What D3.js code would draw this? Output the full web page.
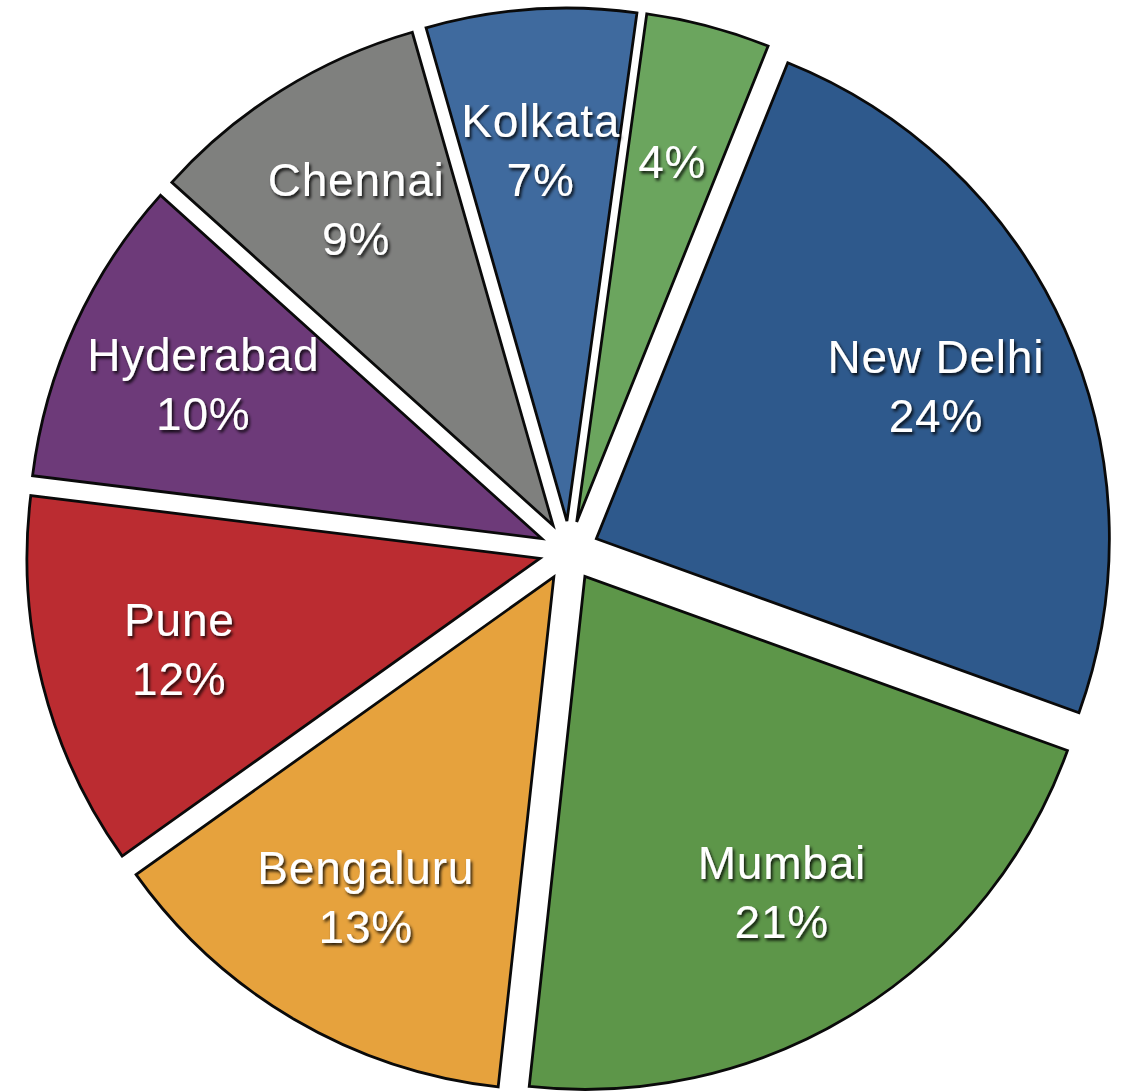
<!DOCTYPE html>
<html>
<head>
<meta charset="utf-8">
<script src="https://cdn.jsdelivr.net/npm/d3@7"></script>
<style>
  html, body { margin: 0; padding: 0; background: #ffffff; }
  svg { display: block; }
</style>
</head>
<body>
<svg id="chart" width="1127" height="1092"></svg>
<script>
// ---- data ----
const categories = ["Others", "New Delhi", "Mumbai", "Bengaluru", "Pune", "Hyderabad", "Chennai", "Kolkata"];
const values = [3.9, 24.4, 21.2, 13.4, 11.8, 9.7, 8.9, 6.6];
const colors = ["#6ba55e", "#2e598c", "#5d9649", "#e6a23d", "#bb2c31", "#6d3a79", "#7f807e", "#3f6a9e"];

// ---- layout ----
const cx = 569, cy = 551;
const radius = 513;
const explode = 30;
const labelR = 372;
const startDeg = 7.85;
const toRad = d => d * Math.PI / 180;

const svg = d3.select("#chart");

const defs = svg.append("defs");
const f = defs.append("filter").attr("id", "tshadow")
  .attr("x", "-20%").attr("y", "-20%").attr("width", "140%").attr("height", "160%");
f.append("feDropShadow").attr("dx", 1.8).attr("dy", 2.5).attr("stdDeviation", 1.5)
  .attr("flood-color", "#000").attr("flood-opacity", 0.85);

const total = d3.sum(values);
const data = categories.map((c, i) => ({ name: c, value: values[i], color: colors[i] }));

const pie = d3.pie().sort(null).value(d => d.value)
  .startAngle(toRad(startDeg)).endAngle(toRad(startDeg) + 2 * Math.PI);
const arcs = pie(data);
const arc = d3.arc().innerRadius(0).outerRadius(radius);

const g = svg.append("g").attr("transform", `translate(${cx},${cy})`);

const slices = g.selectAll("g.slice").data(arcs).join("g")
  .attr("class", "slice")
  .attr("transform", d => {
    const m = (d.startAngle + d.endAngle) / 2;
    return `translate(${explode * Math.sin(m)},${-explode * Math.cos(m)})`;
  });

slices.append("path")
  .attr("d", arc)
  .attr("fill", d => d.data.color)
  .attr("stroke", "#0a0a0a")
  .attr("stroke-width", 2.8)
  .attr("stroke-linejoin", "miter");

slices.each(function(d) {
  const m = (d.startAngle + d.endAngle) / 2;
  const x = labelR * Math.sin(m);
  const y = -labelR * Math.cos(m);
  const pct = Math.round(d.data.value / total * 100) + "%";
  const showName = d.data.value >= 5;
  const t = d3.select(this).append("text")
    .attr("text-anchor", "middle")
    .attr("fill", "#ffffff")
    .attr("font-family", "'Liberation Sans', Arial, Helvetica, sans-serif")
    .attr("font-size", 46)
    .attr("letter-spacing", "0.8px")
    .attr("filter", "url(#tshadow)");
  if (showName) {
    t.append("tspan").attr("x", x).attr("y", y - 13.5).text(d.data.name);
    t.append("tspan").attr("x", x).attr("y", y + 45.5).text(pct);
  } else {
    t.append("tspan").attr("x", x).attr("y", y + 16).text(pct);
  }
});
</script>
</body>
</html>
